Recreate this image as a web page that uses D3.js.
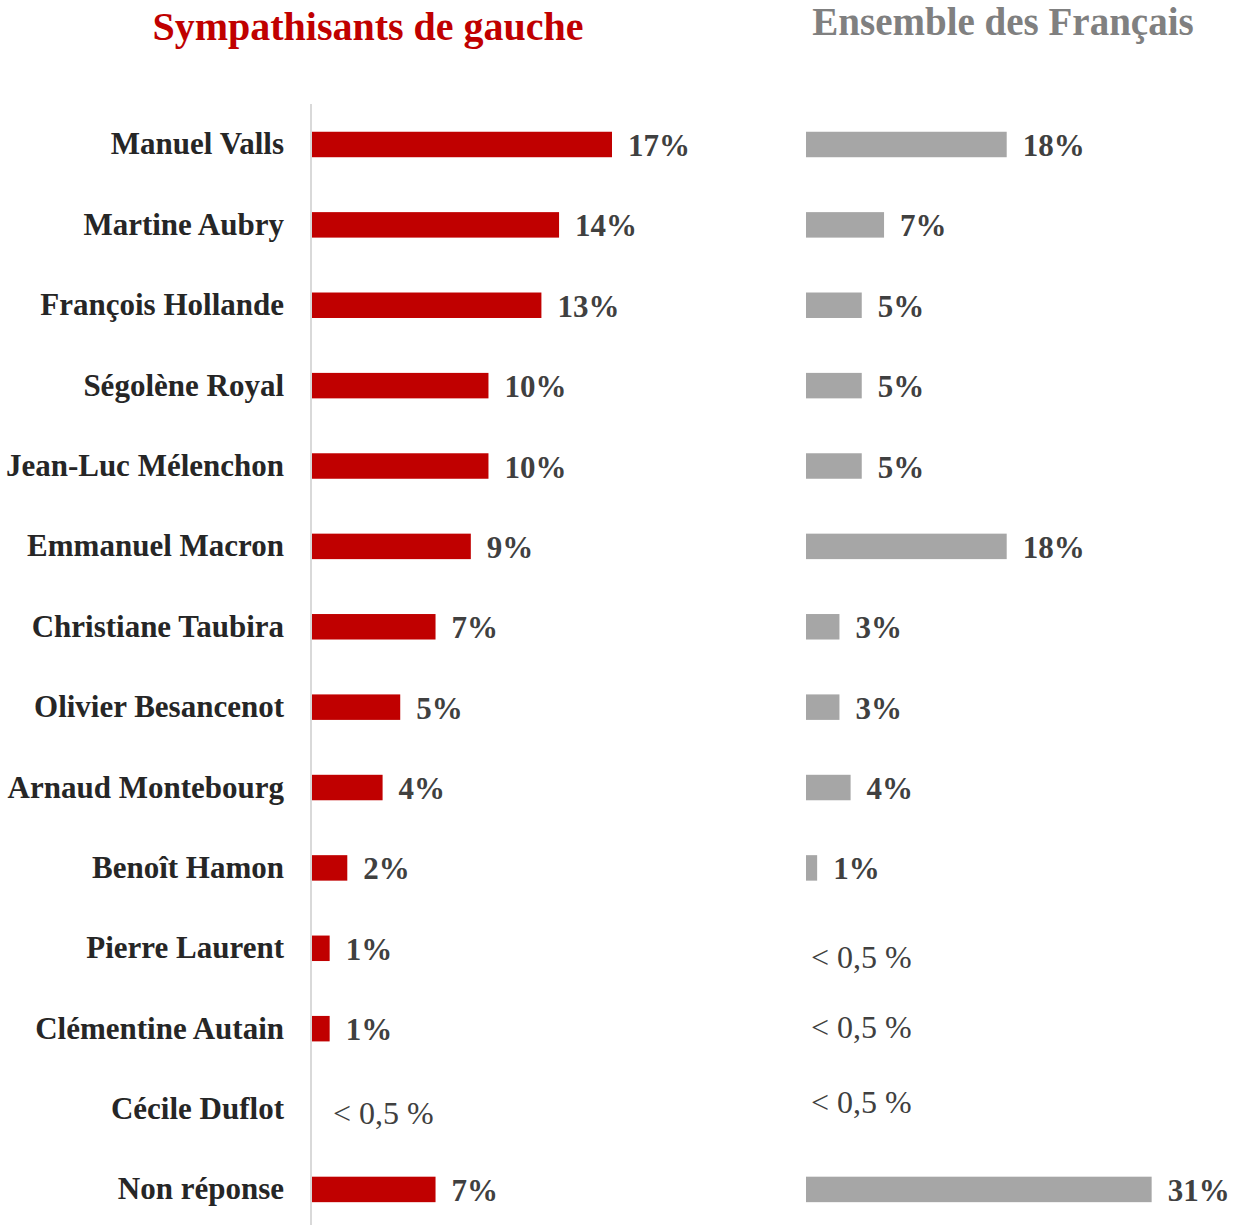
<!DOCTYPE html>
<html>
<head>
<meta charset="utf-8">
<script src="https://cdn.jsdelivr.net/npm/d3@7"></script>
<style>
    body { margin: 0; background: #ffffff; }
    svg text { font-family: "Palatino Linotype", "Book Antiqua", Palatino, "Liberation Serif", serif; }
</style>
</head>
<body>
<div id="chart"></div>
<script>
'use strict';

// Personnalités (ordre du graphique)
var names = ["Manuel Valls", "Martine Aubry", "François Hollande", "Ségolène Royal",
    "Jean-Luc Mélenchon", "Emmanuel Macron", "Christiane Taubira", "Olivier Besancenot",
    "Arnaud Montebourg", "Benoît Hamon", "Pierre Laurent", "Clémentine Autain",
    "Cécile Duflot", "Non réponse"];

// null = moins de 0,5 %
var gaucheValues = [17, 14, 13, 10, 10, 9, 7, 5, 4, 2, 1, 1, null, 7];
var ensembleValues = [18, 7, 5, 5, 5, 18, 3, 3, 4, 1, null, null, null, 31];

var titles = ["Sympathisants de gauche", "Ensemble des Français"];
var smallLabel = "< 0,5 %";

var width = 1240;
var height = 1225;

var svg = d3.select("#chart").append("svg")
    .attr("width", width)
    .attr("height", height);

var y = d3.scaleBand()
    .domain(names)
    .range([104.3, 104.3 + 80.38 * names.length])
    .paddingInner(0.683)
    .paddingOuter(0.3415);

var xLeft = d3.scaleLinear().domain([0, 17]).range([312, 612]);
var xRight = d3.scaleLinear().domain([0, 18]).range([806, 1006.7]);

var rowCenter = function (name) { return y(name) + y.bandwidth() / 2; };

// titres
svg.append("text")
    .attr("x", 368)
    .attr("y", 40)
    .attr("text-anchor", "middle")
    .style("font-size", "40px")
    .style("font-weight", "bold")
    .style("fill", "#c00000")
    .text(titles[0]);

svg.append("text")
    .attr("x", 1003)
    .attr("y", 35)
    .attr("text-anchor", "middle")
    .style("font-size", "39px")
    .style("font-weight", "bold")
    .style("fill", "#808080")
    .text(titles[1]);

// axe vertical
svg.append("line")
    .attr("x1", 311)
    .attr("x2", 311)
    .attr("y1", 104)
    .attr("y2", height)
    .attr("stroke", "#d9d9d9")
    .attr("stroke-width", 2);

// noms
svg.append("g").selectAll("text")
    .data(names)
    .enter().append("text")
    .attr("x", 284)
    .attr("y", function (d) { return rowCenter(d) + 10; })
    .attr("text-anchor", "end")
    .style("font-size", "31px")
    .style("font-weight", "bold")
    .style("fill", "#262626")
    .text(function (d) { return d; });

var drawPanel = function (values, x, color, smallX, smallDy) {
    var rows = names.map(function (n, i) { return { name: n, value: values[i], i: i }; });
    var g = svg.append("g");

    g.selectAll("rect")
        .data(rows.filter(function (d) { return d.value !== null; }))
        .enter().append("rect")
        .attr("x", x(0))
        .attr("y", function (d) { return y(d.name); })
        .attr("width", function (d) { return x(d.value) - x(0); })
        .attr("height", y.bandwidth())
        .attr("fill", color);

    g.selectAll("text.value")
        .data(rows.filter(function (d) { return d.value !== null; }))
        .enter().append("text")
        .attr("class", "value")
        .attr("x", function (d) { return x(d.value) + 16; })
        .attr("y", function (d) { return rowCenter(d.name) + 11.5; })
        .style("font-size", "31px")
        .style("font-weight", "bold")
        .style("fill", "#404040")
        .text(function (d) { return d.value + "%"; });

    var small = rows.filter(function (d) { return d.value === null; });
    g.selectAll("text.small")
        .data(small)
        .enter().append("text")
        .attr("class", "small")
        .attr("x", smallX)
        .attr("y", function (d, k) { return rowCenter(d.name) + smallDy[k]; })
        .style("font-size", "32px")
        .style("fill", "#404040")
        .text(smallLabel);
};

drawPanel(gaucheValues, xLeft, "#c00000", 333, [15]);
drawPanel(ensembleValues, xRight, "#a6a6a6", 811, [19.5, 9.5, 4]);
</script>
</body>
</html>
